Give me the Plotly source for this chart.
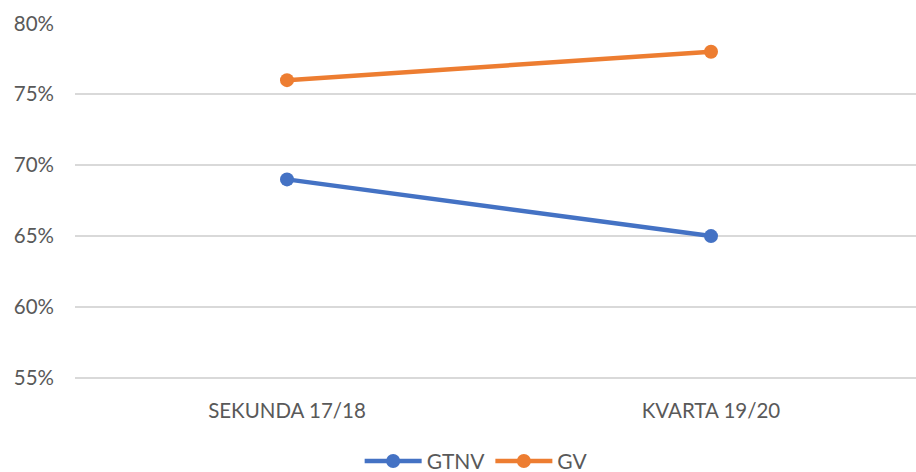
import plotly.graph_objects as go

# Survey periods and share of pupils per group (%)
categories = ["SEKUNDA 17/18", "KVARTA 19/20"]
gtnv = [69, 65]
gv = [76, 78]
y_ticks = [55, 60, 65, 70, 75, 80]
y_tick_labels = ["55%", "60%", "65%", "70%", "75%", "80%"]

FONT = "Lato, 'Open Sans', sans-serif"
GREY = "#595959"

fig = go.Figure()
fig.add_trace(go.Scatter(
    x=categories, y=gtnv, name="GTNV", mode="lines+markers",
    line=dict(color="#4472C4", width=4.5),
    marker=dict(size=14, color="#4472C4"),
))
fig.add_trace(go.Scatter(
    x=categories, y=gv, name="GV", mode="lines+markers",
    line=dict(color="#ED7D31", width=4.5),
    marker=dict(size=14, color="#ED7D31"),
))

fig.update_layout(
    width=916, height=472,
    margin=dict(l=75, r=0, t=23.1, b=92.2, autoexpand=False),
    paper_bgcolor="white", plot_bgcolor="white",
    font=dict(family=FONT, size=20.5, color=GREY),
    showlegend=True,
    legend=dict(
        orientation="h", x=0.477, xanchor="center", y=-0.228, yanchor="middle",
        yref="paper", itemwidth=57, font=dict(size=21, color=GREY),
        traceorder="normal",
    ),
    xaxis=dict(
        type="category", range=[-0.5, 1.4835],
        showgrid=False, showline=False, zeroline=False,
        ticks="", ticklabelstandoff=16, tickfont=dict(size=20.5, color=GREY),
    ),
    yaxis=dict(
        range=[54.85, 80.03], tickvals=y_ticks, ticktext=y_tick_labels,
        showgrid=True, gridcolor="#D9D9D9", gridwidth=1.5,
        zeroline=False, showline=False, ticks="", ticklabelstandoff=20,
        tickfont=dict(size=20.5, color=GREY),
    ),
)

fig.write_html("out.html")
